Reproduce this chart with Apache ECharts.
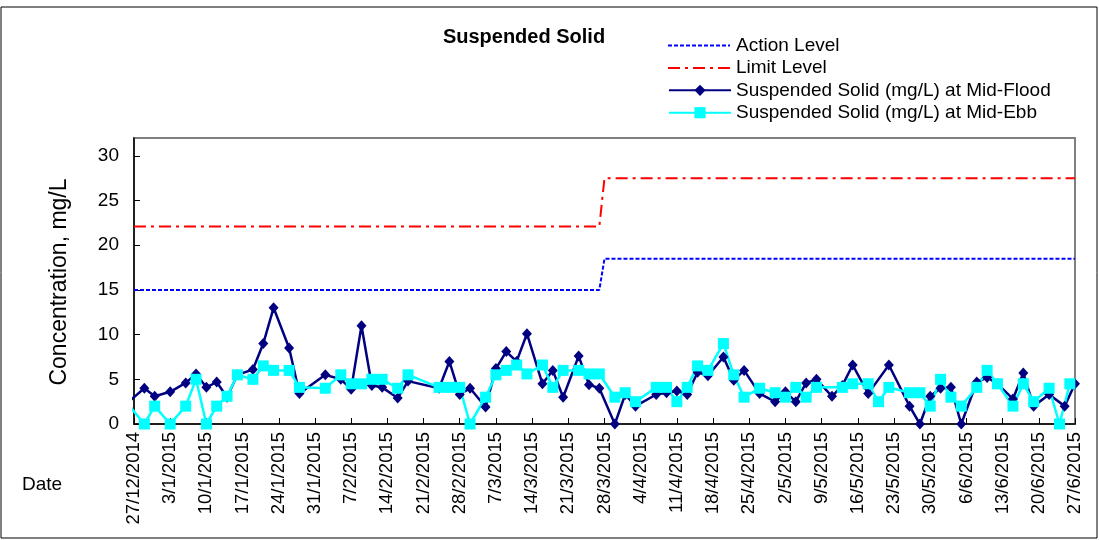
<!DOCTYPE html>
<html><head><meta charset="utf-8">
<script src="https://cdn.jsdelivr.net/npm/echarts@6/dist/echarts.min.js"></script>
<style>html,body{margin:0;padding:0;background:#fff}#c{width:1099px;height:540px}</style>
</head><body><div id="c"></div>
<script>
// ---- data ----
var sampleDates = ['2014-12-24','2014-12-29','2014-12-31','2015-01-03','2015-01-06','2015-01-08','2015-01-10','2015-01-12','2015-01-14','2015-01-16',
'2015-01-19','2015-01-21','2015-01-23','2015-01-26','2015-01-28','2015-02-02','2015-02-05','2015-02-07','2015-02-09','2015-02-11',
'2015-02-13','2015-02-16','2015-02-18','2015-02-24','2015-02-26','2015-02-28','2015-03-02','2015-03-05','2015-03-07','2015-03-09',
'2015-03-11','2015-03-13','2015-03-16','2015-03-18','2015-03-20','2015-03-23','2015-03-25','2015-03-27','2015-03-30','2015-04-01',
'2015-04-03','2015-04-07','2015-04-09','2015-04-11','2015-04-13','2015-04-15','2015-04-17','2015-04-20','2015-04-22','2015-04-24',
'2015-04-27','2015-04-30','2015-05-02','2015-05-04','2015-05-06','2015-05-08','2015-05-11','2015-05-13','2015-05-15','2015-05-18',
'2015-05-20','2015-05-22','2015-05-26','2015-05-28','2015-05-30','2015-06-01','2015-06-03','2015-06-05','2015-06-08','2015-06-10',
'2015-06-12','2015-06-15','2015-06-17','2015-06-19','2015-06-22','2015-06-24','2015-06-25','2015-06-26','2015-06-27'];
var midFlood = [1.5, 4.0, 3.1, 3.6, 4.6, 5.6, 4.1, 4.7, 3.0, 5.5,
 6.1, 9.0, 13.0, 8.5, 3.4, 5.5, 5.0, 3.9, 11.0, 4.3,
 4.1, 2.9, 4.8, 4.0, 7.0, 3.3, 4.0, 1.9, 6.2, 8.1,
 7.0, 10.1, 4.5, 6.0, 3.0, 7.6, 4.4, 4.0, 0, 3.3,
 2.0, 3.3, 3.5, 3.7, 3.3, 5.8, 5.4, 7.5, 4.9, 6.0,
 3.4, 2.5, 3.6, 2.5, 4.6, 5.0, 3.1, 4.3, 6.6, 3.4,
 null, 6.6, 2.0, 0, 3.1, 4.0, 4.1, 0, 4.7, 5.2,
 4.5, 2.8, 5.7, 2.0, 3.3, null, 2.0, null, 4.5];
var midEbb = [3.5, 0, 2.0, 0, 2.0, 5.0, 0, 2.0, 3.1, 5.5,
 5.0, 6.5, 6.0, 6.0, 4.1, 4.0, 5.5, 4.5, 4.5, 5.0,
 5.0, 4.0, 5.5, 4.1, 4.1, 4.1, 0, 3.0, 5.5, 6.0,
 6.6, 5.6, 6.6, 4.1, 6.0, 6.0, 5.6, 5.6, 3.0, 3.5,
 2.5, 4.1, 4.1, 2.5, 4.1, 6.5, 6.0, 9.0, 5.5, 3.0,
 4.0, 3.5, 3.0, 4.1, 3.0, 4.1, null, 4.1, 4.5, 4.5,
 2.5, 4.1, 3.5, 3.5, 2.0, 5.0, 3.0, 2.0, 4.1, 6.0,
 4.5, 2.0, 4.5, 2.5, 4.0, 0, null, 4.5, null];
var levelDates = ['2014-12-27','2015-03-27','2015-03-28','2015-06-27'];
var actionLevel = [15.0, 15.0, 18.5, 18.5];
var limitLevel = [22.1, 22.1, 27.5, 27.5];
var axisStart = '2014-12-27', axisEnd = '2015-06-27';
var yTicks = {min: 0, max: 32, step: 5};
var seriesNames = ['Action Level','Limit Level','Suspended Solid (mg/L) at Mid-Flood','Suspended Solid (mg/L) at Mid-Ebb'];

// ---- helpers ----
function toUTC(s){var p=s.split('-');return Date.UTC(+p[0],+p[1]-1,+p[2]);}
var base = toUTC(axisStart);
function dayNum(s){return Math.round((toUTC(s)-base)/86400000);}
function pairs(dates, vals){return dates.map(function(d,i){return [dayNum(d), vals[i]];});}
function fmt(v){var dt=new Date(base+v*86400000);return dt.getUTCDate()+'/'+(dt.getUTCMonth()+1)+'/'+dt.getUTCFullYear();}

var FONT = 'Liberation Sans, Arial, sans-serif';
var ACTION_STYLE = {color:'#0000FF', width:2, dash:[4,2]};
var LIMIT_STYLE = {color:'#FF0000', width:2, dash:[12,5,3,5]};
var LEG = {left:668, top:36, w:62, pitch:22.4, rowH:19};
function legLine(i, st){
  var y = LEG.top + LEG.rowH/2 + i*LEG.pitch;
  return {type:'line', shape:{x1:LEG.left, y1:y, x2:LEG.left+LEG.w, y2:y}, silent:true,
    style:{stroke:st.color, lineWidth:st.width, lineDash:st.dash}};
}
var chart = echarts.init(document.getElementById('c'), null, {renderer:'canvas'});
chart.setOption({
  animation:false,
  backgroundColor:'#fff',
  textStyle:{fontFamily:FONT},
  grid:{left:134, right:24, top:138, bottom:116, show:true, borderColor:'#808080', borderWidth:2, backgroundColor:'transparent'},
  legend:{
    orient:'vertical', left:LEG.left, top:LEG.top, padding:0, itemWidth:LEG.w, itemHeight:14, itemGap:LEG.pitch-LEG.rowH,
    textStyle:{fontFamily:FONT, fontSize:19, color:'#000', lineHeight:LEG.rowH},
    data:[{name:seriesNames[0], icon:'none'},{name:seriesNames[1], icon:'none'},seriesNames[2],seriesNames[3]]
  },
  graphic:[
    {type:'rect', shape:{x:1, y:7, width:1096, height:531}, style:{fill:'none', stroke:'#000', lineWidth:1}, silent:true, z:-1},
    legLine(0, ACTION_STYLE), legLine(1, LIMIT_STYLE),
    {type:'text', x:524, y:37, style:{text:'Suspended Solid', font:'bold 20px '+FONT, fill:'#000', textAlign:'center', textVerticalAlign:'middle'}},
    {type:'text', x:60, y:282, rotation:Math.PI/2, style:{text:'Concentration, mg/L', font:'23px '+FONT, fill:'#000', textAlign:'center', textVerticalAlign:'middle'}},
    {type:'text', x:22, y:485, style:{text:'Date', font:'19px '+FONT, fill:'#000', textAlign:'left', textVerticalAlign:'middle'}}
  ],
  xAxis:{
    type:'value', min:dayNum(axisStart), max:dayNum(axisEnd), interval:7,
    axisLine:{lineStyle:{color:'#000', width:1.5}},
    axisTick:{inside:true, length:6, lineStyle:{color:'#000'}},
    splitLine:{show:false},
    axisLabel:{rotate:90, margin:8, fontSize:18.5, color:'#000', fontFamily:FONT, formatter:fmt}
  },
  yAxis:{
    type:'value', min:yTicks.min, max:yTicks.max, interval:yTicks.step,
    axisLine:{show:true, lineStyle:{color:'#000', width:1.5}},
    axisTick:{show:true, inside:true, length:6, lineStyle:{color:'#000'}},
    splitLine:{show:false},
    axisLabel:{margin:15, fontSize:19, color:'#000', fontFamily:FONT, showMaxLabel:false}
  },
  series:[
    {name:seriesNames[0], type:'line', data:pairs(levelDates, actionLevel), symbol:'none',
     lineStyle:{color:ACTION_STYLE.color, width:ACTION_STYLE.width, type:ACTION_STYLE.dash}, itemStyle:{color:ACTION_STYLE.color}},
    {name:seriesNames[1], type:'line', data:pairs(levelDates, limitLevel), symbol:'none',
     lineStyle:{color:LIMIT_STYLE.color, width:LIMIT_STYLE.width, type:LIMIT_STYLE.dash}, itemStyle:{color:LIMIT_STYLE.color}},
    {name:seriesNames[2], type:'line', data:pairs(sampleDates, midFlood), connectNulls:true,
     symbol:'diamond', symbolSize:[10,11], clip:true,
     lineStyle:{color:'#000080', width:2.5}, itemStyle:{color:'#000080'}},
    {name:seriesNames[3], type:'line', data:pairs(sampleDates, midEbb), connectNulls:true,
     symbol:'rect', symbolSize:11, clip:true,
     lineStyle:{color:'#00FFFF', width:2.5}, itemStyle:{color:'#00FFFF'}}
  ]
});
</script></body></html>
